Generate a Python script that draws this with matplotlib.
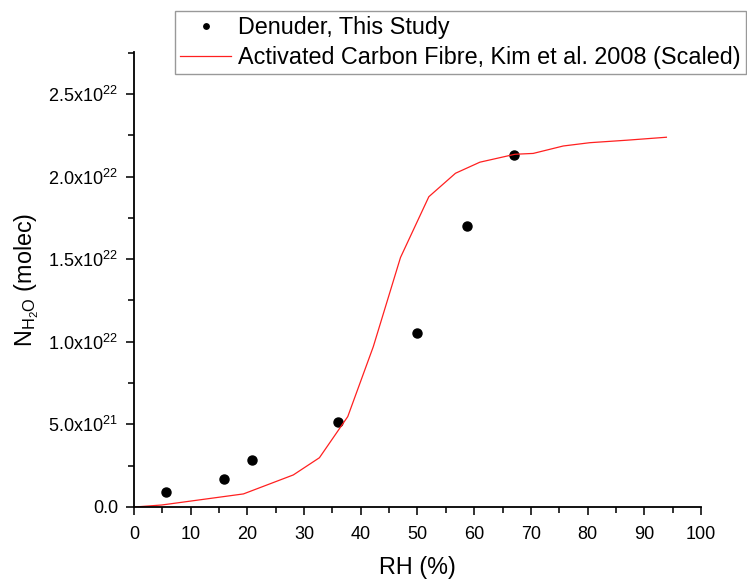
import matplotlib
matplotlib.use("Agg")
import matplotlib.pyplot as plt
from matplotlib.ticker import MultipleLocator, FixedLocator, FixedFormatter

plt.rcParams['font.family'] = ['Liberation Sans', 'DejaVu Sans']
plt.rcParams['mathtext.fontset'] = 'custom'
plt.rcParams['mathtext.rm'] = 'Liberation Sans'
plt.rcParams['mathtext.it'] = 'Liberation Sans:italic'

# Denuder, This Study
rh_denuder = [5.6, 15.9, 20.8, 36.0, 49.9, 58.7, 67.1]
n_denuder = [0.89e21, 1.71e21, 2.85e21, 5.13e21, 10.55e21, 17.0e21, 21.33e21]

# Activated Carbon Fibre, Kim et al. 2008 (Scaled)
rh_acf = [0.2, 4.9, 19.3, 28.1, 32.7, 37.7, 42.2, 47.0, 52.0, 56.7, 61.0, 67.2, 70.4, 75.7, 80.4, 86.9, 93.9]
n_acf = [0.0, 0.12e21, 0.79e21, 1.94e21, 2.98e21, 5.47e21, 9.7e21, 15.1e21, 18.78e21, 20.2e21,
         20.87e21, 21.35e21, 21.4e21, 21.85e21, 22.05e21, 22.2e21, 22.38e21]

y_tick_values = [0.0, 5.0e21, 1.0e22, 1.5e22, 2.0e22, 2.5e22]
y_tick_labels = ['0.0', r'5.0x10$^{\mathregular{21}}$', r'1.0x10$^{\mathregular{22}}$',
                 r'1.5x10$^{\mathregular{22}}$', r'2.0x10$^{\mathregular{22}}$', r'2.5x10$^{\mathregular{22}}$']

fig = plt.figure(figsize=(7.47, 5.79), dpi=100)
ax = fig.add_axes([0.1794, 0.1244, 0.9384 - 0.1794, 0.9102 - 0.1244])

ax.plot(rh_denuder, n_denuder, 'o', color='black', markersize=6.5, linestyle='none',
        label='Denuder, This Study')
ax.plot(rh_acf, n_acf, '-', color='#ff2020', linewidth=0.9,
        label='Activated Carbon Fibre, Kim et al. 2008 (Scaled)')

ax.set_xlim(0, 100)
ax.set_ylim(0, 2.754e22)
ax.spines['top'].set_visible(False)
ax.spines['right'].set_visible(False)
for s in ('left', 'bottom'):
    ax.spines[s].set_linewidth(1.3)

ax.xaxis.set_major_locator(MultipleLocator(10))
ax.xaxis.set_minor_locator(MultipleLocator(5))
ax.yaxis.set_major_locator(FixedLocator(y_tick_values))
ax.yaxis.set_major_formatter(FixedFormatter(y_tick_labels))
ax.yaxis.set_minor_locator(MultipleLocator(2.5e21))
ax.tick_params(which='major', direction='out', length=6, width=1.3, labelsize=13, color='#222222')
ax.tick_params(which='minor', direction='out', length=4, width=1.3, color='#222222')
ax.tick_params(axis='x', which='major', pad=8)
ax.tick_params(axis='y', which='major', pad=5.5)

ax.set_xlabel('RH (%)', fontsize=16.8, labelpad=9)
ax.set_ylabel(r'N$_{\mathregular{H_2O}}$ (molec)', fontsize=16.8, labelpad=5)

leg = fig.legend(loc='upper right', bbox_to_anchor=(0.9987, 0.981), bbox_transform=fig.transFigure,
                 borderaxespad=0, fontsize=16.8, fancybox=False, frameon=True, handlelength=2.2,
                 handletextpad=0.3, borderpad=0.22, labelspacing=0.3, markerscale=0.6)
leg.get_frame().set_edgecolor('#808080')
leg.get_frame().set_linewidth(1.0)

fig.savefig('out.png', dpi=100)
